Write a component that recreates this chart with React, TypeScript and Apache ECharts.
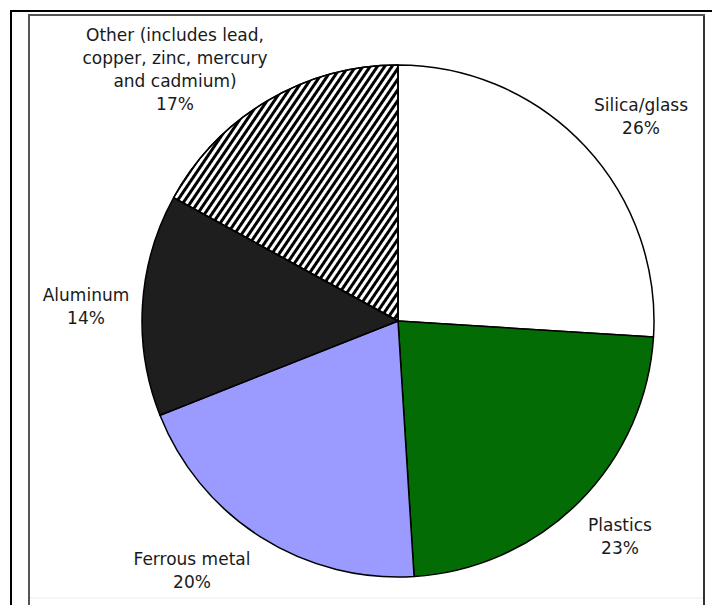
import React, { useEffect, useRef } from "react";
import * as echarts from "echarts";

// Composition of material categories, in percent, clockwise from 12 o'clock
const materials = [
  "Silica/glass",
  "Plastics",
  "Ferrous metal",
  "Aluminum",
  "Other (includes lead,\ncopper, zinc, mercury\nand cadmium)",
];
const shares = [26, 23, 20, 14, 17];

// Label anchor points (centre of each text block), in pixels
const labelAnchors: [number, number][] = [
  [641, 116],
  [620, 536],
  [192, 570],
  [86, 306],
  [175, 69],
];

const sliceFills = ["#ffffff", "#046c04", "#9a9aff", "#1e1e1e", "#ffffff"];

export default function App() {
  const ref = useRef<HTMLDivElement>(null);

  useEffect(() => {
    if (!ref.current) return;
    const chart = echarts.init(ref.current, undefined, { renderer: "svg" });

    const data = materials.map((name, i) => {
      const item: any = {
        name,
        value: shares[i],
        itemStyle: { color: sliceFills[i] },
      };
      if (i === 4) {
        // hatched slice: black diagonal stripes on white
        item.itemStyle.decal = {
          symbol: "rect",
          symbolSize: 1,
          color: "#000000",
          backgroundColor: "#ffffff",
          dashArrayX: [1, 0],
          dashArrayY: [3, 3],
          rotation: -0.31 * Math.PI,
        };
      }
      return item;
    });

    chart.setOption({
      animation: false,
      backgroundColor: "#ffffff",
      graphic: [
        // outer frame
        { type: "line", shape: { x1: 11, y1: 10, x2: 11, y2: 605 }, style: { stroke: "#000", lineWidth: 2 } },
        { type: "line", shape: { x1: 10, y1: 11, x2: 712, y2: 11 }, style: { stroke: "#000", lineWidth: 2 } },
        // inner frame
        { type: "line", shape: { x1: 29, y1: 14, x2: 29, y2: 605 }, style: { stroke: "#555", lineWidth: 2 } },
        { type: "line", shape: { x1: 704, y1: 14, x2: 704, y2: 605 }, style: { stroke: "#333", lineWidth: 2 } },
        { type: "line", shape: { x1: 28, y1: 15, x2: 705, y2: 15 }, style: { stroke: "#555", lineWidth: 2 } },
        { type: "line", shape: { x1: 30, y1: 598, x2: 703, y2: 598 }, style: { stroke: "#ececec", lineWidth: 1 } },
      ],
      series: [
        {
          type: "pie",
          center: [398, 321],
          radius: 256,
          startAngle: 90,
          clockwise: true,
          silent: true,
          data,
          itemStyle: { borderColor: "#000", borderWidth: 1.5 },
          label: {
            show: true,
            position: "outside",
            overflow: "none",
            formatter: "{b}\n{c}%",
            fontFamily: "DejaVu Sans",
            fontSize: 17,
            lineHeight: 23,
            color: "#1a1a1a",
          },
          labelLine: { show: false },
          labelLayout: (params: any) => {
            const p = labelAnchors[params.dataIndex];
            return { x: p[0], y: p[1], align: "center", verticalAlign: "middle" };
          },
        },
      ],
    });

    return () => chart.dispose();
  }, []);

  return (
    <div
      ref={ref}
      style={{ position: "fixed", left: 0, top: 0, width: 712, height: 605 }}
    />
  );
}
